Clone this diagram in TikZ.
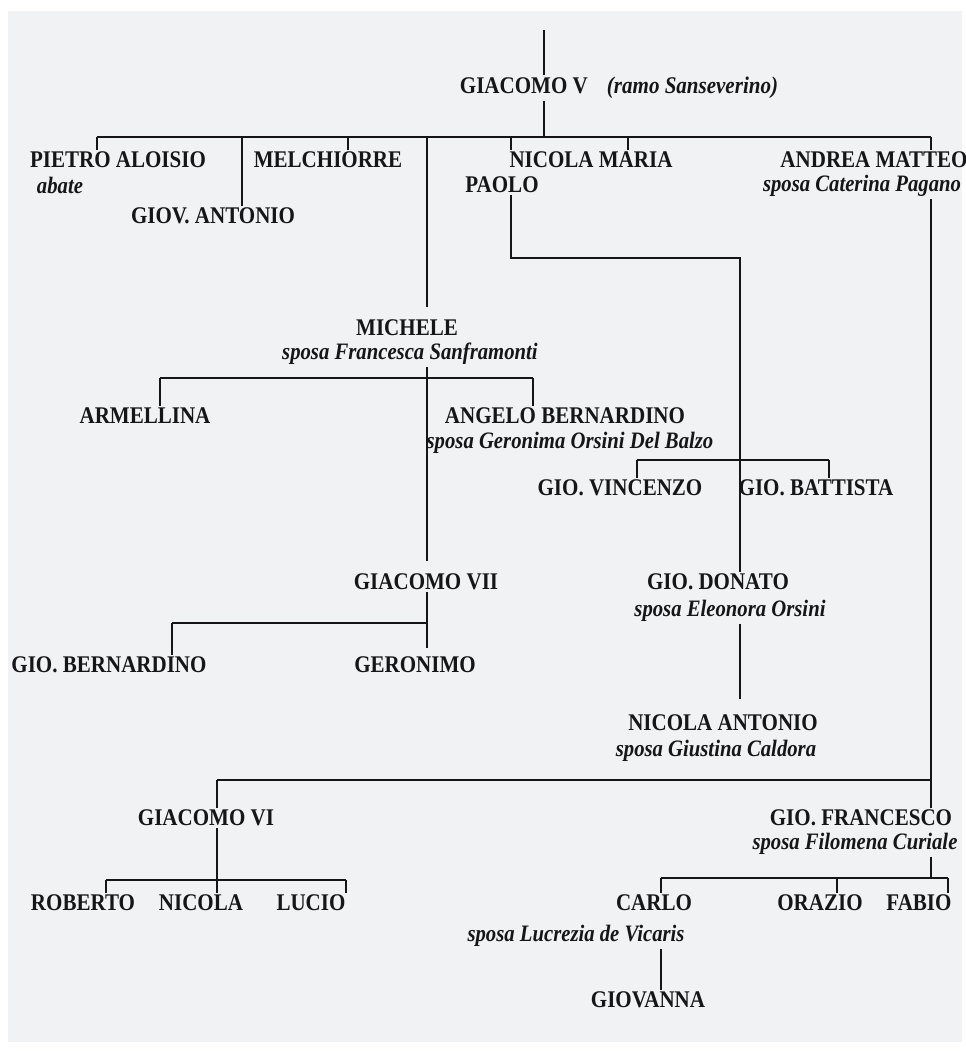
\documentclass[tikz,border=0pt]{standalone}
\usepackage{fontspec}
\setmainfont{Liberation Serif}[FakeStretch=0.88]
\definecolor{page}{RGB}{241,242,243}
\definecolor{ink}{RGB}{22,22,24}
\begin{document}
\begin{tikzpicture}[x=0.02cm, y=-0.02cm,
    person/.style = {font=\fontsize{13.6}{15}\selectfont\bfseries, text=ink, inner sep=1pt},
    note/.style = {font=\fontsize{13.4}{15}\selectfont\bfseries\itshape, text=ink, inner sep=1pt},
    line/.style = {draw=ink, line width=1.3pt}]
    \useasboundingbox (0,0) rectangle (966,1051);
    \fill[white] (0,0) rectangle (966,1051);
    \fill[page] (8,11) rectangle (962,1042);
    % people
    \node[person] (giacomoV) at (619,88) {GIACOMO V\hspace{0.8em}\textit{(ramo Sanseverino)}};
    \node[person] (pietro) at (118,160) {PIETRO ALOISIO};
    \node[note] (pietroNote) at (60,185) {abate};
    \node[person] (giovantonio) at (213,216) {GIOV. ANTONIO};
    \node[person] (melchiorre) at (328,160) {MELCHIORRE};
    \node[person] (nicolamaria) at (591,160) {NICOLA MARIA};
    \node[person] (paolo) at (502,185) {PAOLO};
    \node[person] (andrea) at (874,160) {ANDREA MATTEO};
    \node[note] (andreaNote) at (862,186) {sposa Caterina Pagano};
    \node[person] (michele) at (407,328) {MICHELE};
    \node[note] (micheleNote) at (410,354) {sposa Francesca Sanframonti};
    \node[person] (armellina) at (145,416) {ARMELLINA};
    \node[person] (angelo) at (565,416) {ANGELO BERNARDINO};
    \node[note] (angeloNote) at (570,443) {sposa Geronima Orsini Del Balzo};
    \node[person] (giovincenzo) at (620,488) {GIO. VINCENZO};
    \node[person] (giobattista) at (816,488) {GIO. BATTISTA};
    \node[person] (giacomoVII) at (426,582) {GIACOMO VII};
    \node[person] (giodonato) at (718,582) {GIO. DONATO};
    \node[note] (donatoNote) at (730,611) {sposa Eleonora Orsini};
    \node[person] (giobernardino) at (109,665) {GIO. BERNARDINO};
    \node[person] (geronimo) at (415,665) {GERONIMO};
    \node[person] (nicolaantonio) at (723,723) {NICOLA ANTONIO};
    \node[note] (nicolaNote) at (716,751) {sposa Giustina Caldora};
    \node[person] (giacomoVI) at (206,818) {GIACOMO VI};
    \node[person] (giofrancesco) at (861,818) {GIO. FRANCESCO};
    \node[note] (francescoNote) at (855,844) {sposa Filomena Curiale};
    \node[person] (roberto) at (83,903) {ROBERTO};
    \node[person] (nicola) at (201,903) {NICOLA};
    \node[person] (lucio) at (311,903) {LUCIO};
    \node[person] (carlo) at (654,903) {CARLO};
    \node[person] (orazio) at (820,903) {ORAZIO};
    \node[person] (fabio) at (919,903) {FABIO};
    \node[note] (carloNote) at (576,936) {sposa Lucrezia de Vicaris};
    \node[person] (giovanna) at (648,1000) {GIOVANNA};
    % junctions
    \coordinate (top) at (544,30);
    \coordinate (fork) at (544,137);
    \coordinate (d1) at (97,137);
    \coordinate (d2) at (242,137);
    \coordinate (d3) at (348,137);
    \coordinate (d4) at (427,137);
    \coordinate (d5) at (511,137);
    \coordinate (d6) at (628,137);
    \coordinate (d7) at (931,137);
    \coordinate (bend) at (740,258);
    \coordinate (m1) at (160,378);
    \coordinate (m2) at (533,378);
    \coordinate (v1) at (637,460);
    \coordinate (v2) at (829,460);
    \coordinate (g1) at (172,623);
    \coordinate (f1) at (217,780);
    \coordinate (r1) at (106,880);
    \coordinate (r2) at (346,880);
    \coordinate (c1) at (661,878);
    \coordinate (c2) at (837,878);
    \coordinate (c3) at (948,878);
    % Giacomo V and his sons
    \draw[line] (top) -- (top |- giacomoV.north);
    \draw[line] (giacomoV.south -| fork) -- (fork);
    \draw[line] (d1) -- (d7);
    \draw[line] (d1) -- (d1 |- pietro.north);
    \draw[line] (d2) -- (d2 |- giovantonio.north);
    \draw[line] (d3) -- (d3 |- melchiorre.north);
    \draw[line] (d4) -- ([yshift=6pt]d4 |- michele.north);
    \draw[line] (d5) -- (d5 |- nicolamaria.north);
    \draw[line] (d6) -- (d6 |- nicolamaria.north);
    \draw[line] (d7) -- (d7 |- andrea.north);
    \draw[line] (paolo.south -| d5) |- (bend) -- (bend |- giodonato.north);
    \draw[line] (andreaNote.south -| d7) -- (d7 |- giofrancesco.north);
    % Michele
    \draw[line] (micheleNote.south -| d4) -- ([yshift=6pt]d4 |- giacomoVII.north);
    \draw[line] (m1) -- (m2);
    \draw[line] (m1) -- (m1 |- armellina.north);
    \draw[line] (m2) -- (m2 |- angelo.north);
    \draw[line] (v1) -- (v2);
    \draw[line] (v1) -- (v1 |- giovincenzo.north);
    \draw[line] (v2) -- (v2 |- giobattista.north);
    % Giacomo VII
    \draw[line] (giacomoVII.south -| d4) -- ([yshift=4pt]d4 |- geronimo.north);
    \draw[line] (g1) -- (g1 -| d4);
    \draw[line] (g1) -- (g1 |- giobernardino.north);
    % Gio. Donato
    \draw[line] (donatoNote.south -| bend) -- ([yshift=8pt]bend |- nicolaantonio.north);
    % Giacomo VI and Gio. Francesco
    \draw[line] (f1) -- (f1 -| d7);
    \draw[line] (f1) -- (f1 |- giacomoVI.north);
    \draw[line] (giacomoVI.south -| f1) -- (f1 |- nicola.north);
    \draw[line] (r1) -- (r2);
    \draw[line] (r1) -- (r1 |- roberto.north);
    \draw[line] (r2) -- (r2 |- lucio.north);
    \draw[line] (francescoNote.south -| d7) -- (d7 |- c3);
    \draw[line] (c1) -- (c3);
    \draw[line] (c1) -- (c1 |- carlo.north);
    \draw[line] (c2) -- (c2 |- orazio.north);
    \draw[line] (c3) -- (c3 |- fabio.north);
    % Carlo
    \draw[line] (carloNote.south -| c1) -- (c1 |- giovanna.north);
\end{tikzpicture}
\end{document}
